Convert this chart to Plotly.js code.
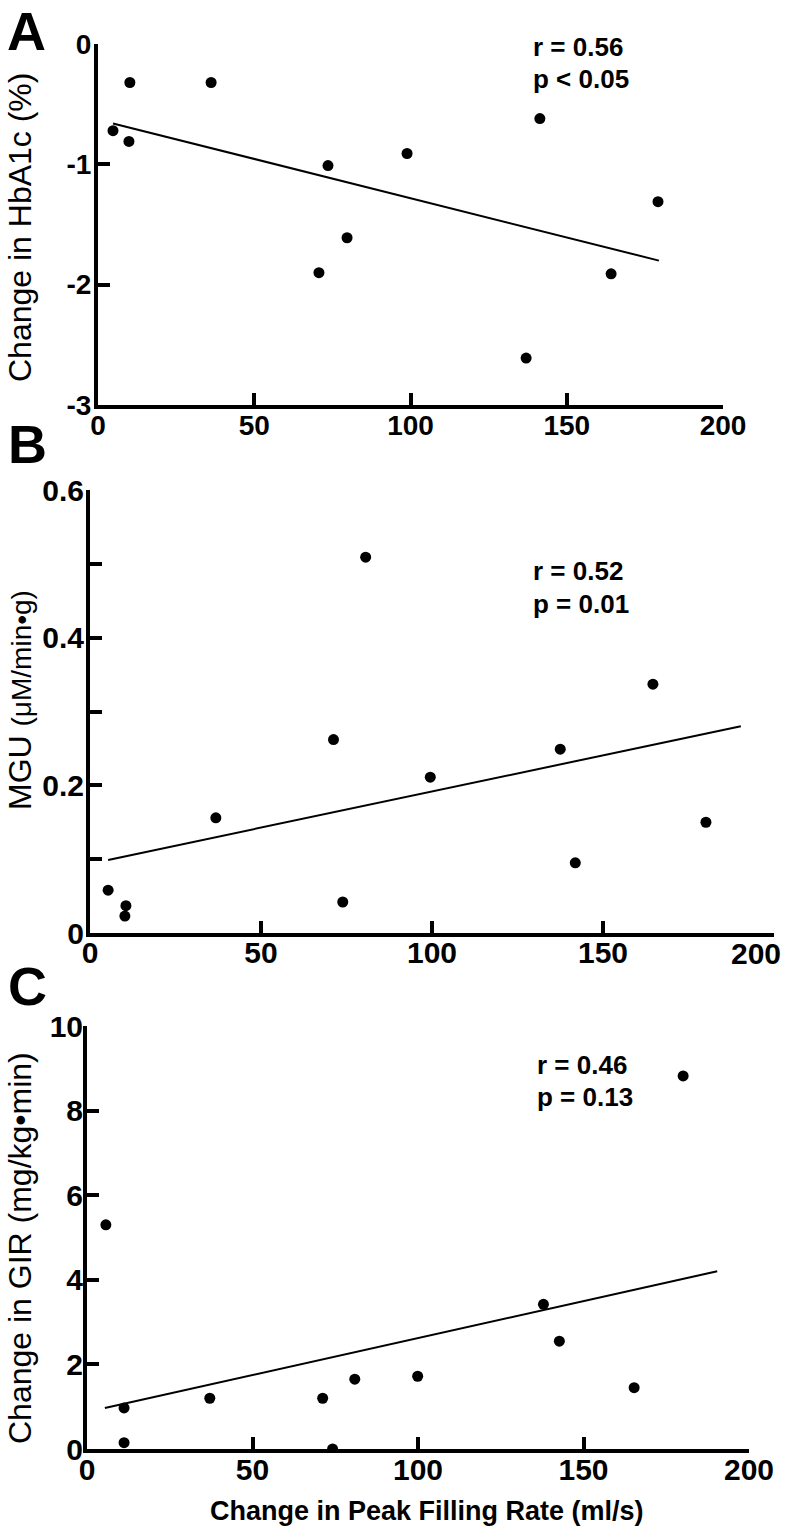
<!DOCTYPE html>
<html><head><meta charset="utf-8">
<script src="https://cdn.plot.ly/plotly-3.0.1.min.js"></script>
<style>html,body{margin:0;padding:0;background:#fff;} #chart{width:789px;height:1531px;}</style>
</head><body><div id="chart"></div>
<script>
// ---- Data ----
// Panel A: Change in HbA1c (%) vs change in peak filling rate
const pfrA = [4.8, 10.2, 9.9, 36.2, 70.7, 73.6, 79.7, 98.9, 137.0, 141.4, 164.2, 179.2];
const hba1c = [-0.72, -0.32, -0.81, -0.32, -1.90, -1.01, -1.61, -0.91, -2.61, -0.62, -1.91, -1.31];
const fitAx = [4.8, 179.5];
const fitAy = [-0.66, -1.80];

// Panel B: MGU
const pfrB = [5.3, 10.5, 10.2, 36.8, 71.2, 73.9, 80.6, 99.5, 137.5, 141.9, 164.6, 180.1];
const mgu = [0.058, 0.037, 0.023, 0.156, 0.262, 0.042, 0.509, 0.211, 0.249, 0.095, 0.337, 0.150];
const fitBx = [5.3, 190.3];
const fitBy = [0.099, 0.280];

// Panel C: Change in GIR
const pfrC = [5.7, 11.2, 11.2, 37.1, 71.2, 74.2, 80.9, 99.9, 137.9, 142.7, 165.3, 180.1];
const gir = [5.30, 0.97, 0.15, 1.20, 1.20, 0.0, 1.65, 1.72, 3.42, 2.55, 1.45, 8.82];
const fitCx = [5.4, 190.4];
const fitCy = [0.97, 4.20];

// Ticks
const xTicks = [0, 50, 100, 150, 200];
const xTickText = ['0', '50', '100', '150', '200'];
const xTickTextB = ['0', '50', '100', '150', ''];   // last label of B drawn as annotation (shifted left to fit)
const lastXLabelB = '200';
const yTicksA = [-3, -2, -1, 0];
const yTickTextA = ['-3', '-2', '-1', '0'];
const yTicksB = [0, 0.1, 0.2, 0.3, 0.4, 0.5, 0.6];
const yTickTextB = ['0', '', '0.2', '', '0.4', '', '0.6'];
const yTicksC = [0, 2, 4, 6, 8, 10];
const yTickTextC = ['0', '2', '4', '6', '8', '10'];

// Text
const panelLetters = ['A', 'B', 'C'];
const statsA = ['r = 0.56', 'p < 0.05'];
const statsB = ['r = 0.52', 'p = 0.01'];
const statsC = ['r = 0.46', 'p = 0.13'];

// ---- Layout helpers ----
const W = 789, H = 1531;
const px = x => x / W;
const py = y => 1 - y / H;
const FONT = 'Liberation Sans, Arial, Helvetica, sans-serif';

function axisBase(extra, size) {
  return Object.assign({
    showline: true, linewidth: 4, linecolor: '#000', mirror: false,
    ticks: 'inside', ticklen: 12, tickwidth: 4, tickcolor: '#000',
    showgrid: false, zeroline: false, fixedrange: true,
    tickmode: 'array',
    tickfont: {family: FONT, size: size, color: '#000', weight: 'bold'}
  }, extra);
}

const dotStyle = {color: '#000', size: 11};
const lineStyle = {color: '#000', width: 2};

const traces = [
  {x: pfrA, y: hba1c, xaxis: 'x', yaxis: 'y', mode: 'markers', type: 'scatter', marker: dotStyle},
  {x: fitAx, y: fitAy, xaxis: 'x', yaxis: 'y', mode: 'lines', type: 'scatter', line: lineStyle},
  {x: pfrB, y: mgu, xaxis: 'x2', yaxis: 'y2', mode: 'markers', type: 'scatter', marker: dotStyle},
  {x: fitBx, y: fitBy, xaxis: 'x2', yaxis: 'y2', mode: 'lines', type: 'scatter', line: lineStyle},
  {x: pfrC, y: gir, xaxis: 'x3', yaxis: 'y3', mode: 'markers', type: 'scatter', marker: dotStyle},
  {x: fitCx, y: fitCy, xaxis: 'x3', yaxis: 'y3', mode: 'lines', type: 'scatter', line: lineStyle}
];

function ann(text, x, y, size, opts) {
  return Object.assign({
    text: text, x: px(x), y: py(y), xref: 'paper', yref: 'paper',
    showarrow: false, xanchor: 'left', yanchor: 'middle',
    font: {family: FONT, size: size, color: '#000', weight: 'bold'}
  }, opts || {});
}
function ytitle(text, x, y) {
  return {
    text: text, x: px(x), y: py(y), xref: 'paper', yref: 'paper',
    showarrow: false, xanchor: 'center', yanchor: 'middle', textangle: -90,
    font: {family: FONT, size: 32, color: '#000'}
  };
}

const annotations = [
  ann(panelLetters[0], 6, 0, 54, {yanchor: 'top', borderpad: 0}),
  ann(panelLetters[1], 6, 444, 54),
  ann(panelLetters[2], 6, 986, 54),
  ann(statsA[0], 531, 47.5, 26), ann(statsA[1], 531, 79, 26),
  ann(statsB[0], 531, 571, 26), ann(statsB[1], 531, 604, 26),
  ann(statsC[0], 535, 1065, 26), ann(statsC[1], 535, 1097, 26),
  ann(lastXLabelB, 756, 953, 30, {xanchor: 'center'}),
  ytitle('Change in HbA1c (%)', 20, 228),
  ytitle('MGU <span style="font-size:28px">(\u03bcM/min\u2022g)</span>', 20, 700),
  ytitle('Change in GIR (mg/kg\u2022min)', 20, 1248),
  {text: 'Change in Peak Filling Rate (ml/s)', x: px(427), y: py(1511), xref: 'paper', yref: 'paper',
   showarrow: false, xanchor: 'center', yanchor: 'middle',
   font: {family: FONT, size: 27, color: '#000', weight: 'bold'}}
];

const layout = {
  width: W, height: H, autosize: false,
  margin: {l: 0, r: 0, t: 0, b: 0, pad: 0},
  paper_bgcolor: '#fff', plot_bgcolor: '#fff',
  showlegend: false,
  xaxis: axisBase({domain: [px(98), px(723)], range: [0, 200], anchor: 'y', tickvals: xTicks, ticktext: xTickText, ticklabelstandoff: -8}, 28),
  yaxis: axisBase({domain: [py(405), py(44)], range: [-3, 0], anchor: 'x', tickvals: yTicksA, ticktext: yTickTextA, ticklabelstandoff: -3}, 28),
  xaxis2: axisBase({domain: [px(90), px(774)], range: [0, 200], anchor: 'y2', tickvals: xTicks, ticktext: xTickTextB, ticklabelstandoff: -10}, 30),
  yaxis2: axisBase({domain: [py(933), py(490)], range: [0, 0.6], anchor: 'x2', tickvals: yTicksB, ticktext: yTickTextB, ticklabelstandoff: -4}, 30),
  xaxis3: axisBase({domain: [px(87), px(749)], range: [0, 200], anchor: 'y3', tickvals: xTicks, ticktext: xTickText, ticklabelstandoff: -9}, 30),
  yaxis3: axisBase({domain: [py(1449), py(1026)], range: [0, 10], anchor: 'x3', tickvals: yTicksC, ticktext: yTickTextC, ticklabelstandoff: -6}, 30),
  annotations: annotations
};

Plotly.newPlot('chart', traces, layout, {displayModeBar: false, staticPlot: true});
</script>
</body></html>
